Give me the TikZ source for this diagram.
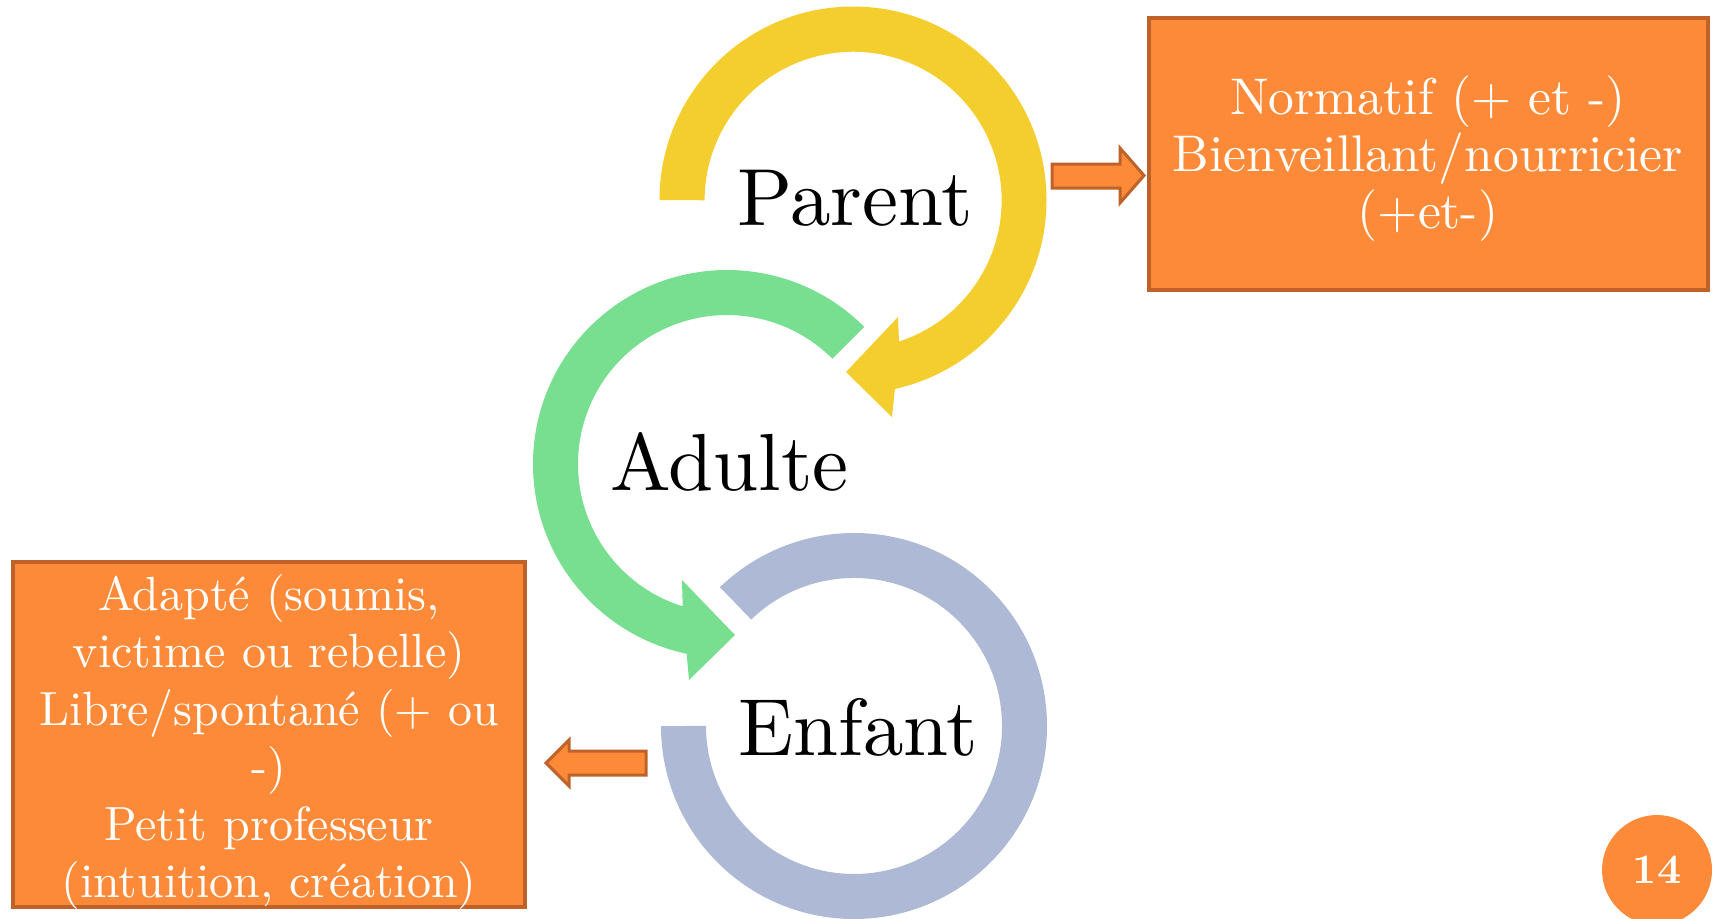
\documentclass[tikz,border=0pt]{standalone}
\usepackage{fontspec}
\setmainfont{lmroman10}[Extension=.otf, UprightFont=*-regular, BoldFont=*-bold, ItalicFont=*-italic, BoldItalicFont=*-bolditalic]
\definecolor{cyel}{HTML}{F4CE2F}
\definecolor{cgrn}{HTML}{77DF8F}
\definecolor{cblu}{HTML}{AEB9D6}
\definecolor{corg}{HTML}{FD8A38}
\definecolor{cbrd}{HTML}{BF6229}
\begin{document}
\begin{tikzpicture}[x=0.5pt,y=-0.5pt,
  lbl/.style={inner sep=0pt, anchor=base west, font=\fontsize{40.5}{48}\selectfont},
  boxst/.style={draw=cbrd, fill=corg, line width=2pt, inner sep=0pt},
  boxtxt/.style={text=white, align=center, inner sep=0pt},
  blk/.style={fill=corg, draw=cbrd, line width=1.5pt},
  pagenum/.style={circle, fill=corg, text=white, inner sep=0pt, minimum size=55pt, font=\fontsize{21}{24}\selectfont\bfseries}]
\useasboundingbox (0,0) rectangle (1713,918);
% yellow circular arrow (Parent)
\fill[cyel] (853,200) ++(180:193.5) arc[start angle=180, end angle=437.5, radius=193.5]
  -- (892,417) -- (846,372) -- (898,317) -- (899,341.5)
  arc[start angle=432, end angle=180, radius=148.5] -- cycle;
% green circular arrow (Adulte)
\fill[cgrn] (727,464) ++(-45:194) arc[start angle=-45, end angle=-258, radius=194]
  -- (689,680) -- (735,635) -- (682,580) -- (682.7,606.3)
  arc[start angle=-252.7, end angle=-45, radius=149] -- cycle;
% blue ring (Enfant)
\fill[cblu] (854,726) ++(180:193) arc[start angle=180, end angle=-134, radius=193]
  -- (751.2,619.5) arc[start angle=-134, end angle=180, radius=148] -- cycle;
% labels
\node[lbl] (parent) at (737,225) {Parent};
\node[lbl] (adulte) at (610,490) {Adulte};
\node[lbl] (enfant) at (738,755) {Enfant};
% right box
\node[boxst, minimum width=279.5pt, minimum height=136pt] (boxR) at (1428.5,154) {};
\node[boxtxt, font=\fontsize{25.8}{28.5}\selectfont] (txtR) at (1428,159) {Normatif (+ et -)\\Bienveillant/nourricier\\(+et-)};
% left box
\node[boxst, minimum width=256pt, minimum height=172.5pt] (boxL) at (269,734.5) {};
\node[boxtxt, font=\fontsize{24}{28.7}\selectfont] (txtL) at (269,742) {Adapté (soumis,\\victime ou rebelle)\\Libre/spontané (+ ou\\-)\\Petit professeur\\(intuition, création)};
% block arrows
\draw[blk] (1052,164) -- (1120,164) -- (1120,148) -- (1144,175.5) -- (1120,203) -- (1120,188) -- (1052,188) -- cycle;
\draw[blk] (646,751) -- (569,751) -- (569,740) -- (546,763) -- (569,786) -- (569,775) -- (646,775) -- cycle;
% page number
\node[pagenum] (page) at (1657,870) {14};
\end{tikzpicture}
\end{document}
